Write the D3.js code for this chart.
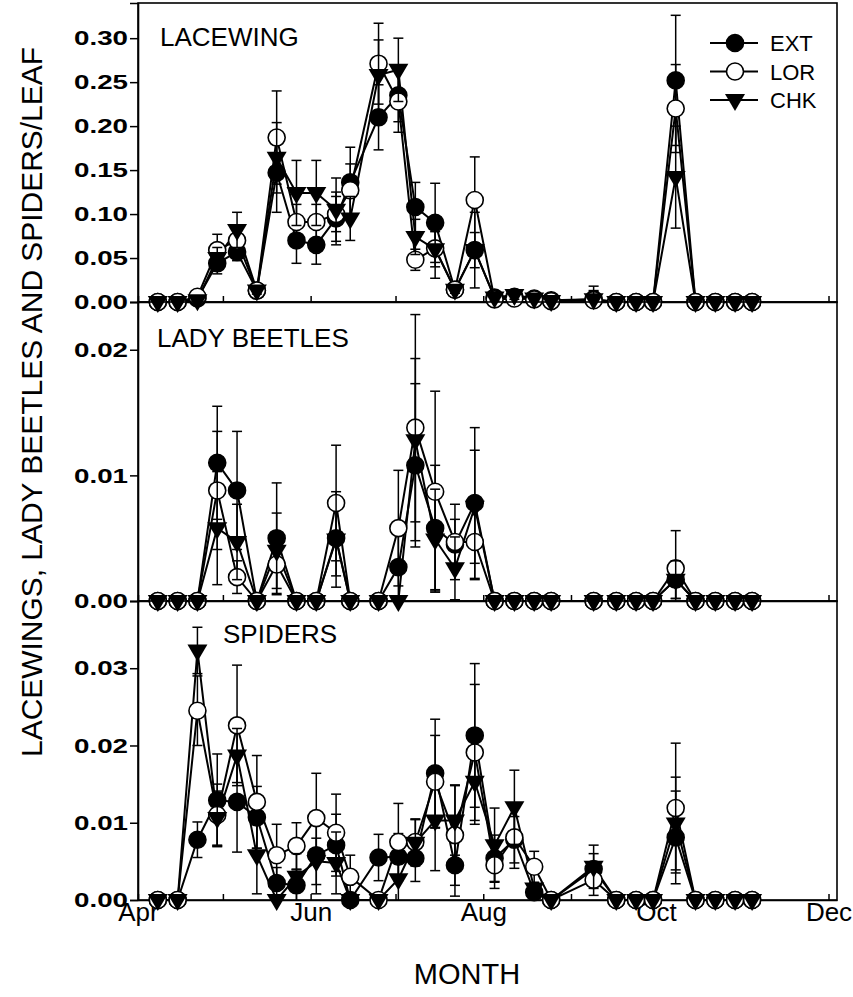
<!DOCTYPE html>
<html>
<head>
<meta charset="utf-8">
<script src="https://cdn.jsdelivr.net/npm/d3@7"></script>
<style>
  body { margin: 0; background: #fff; }
  svg { display: block; font-family: "Liberation Sans", Arial, sans-serif; }
</style>
</head>
<body>
<svg id="chart" width="853" height="997"></svg>
<script>
// Sampling dates (same for the three panels)
const sampleDates = [
  '1998-04-08', '1998-04-15', '1998-04-22', '1998-04-29', '1998-05-06',
  '1998-05-13', '1998-05-20', '1998-05-27', '1998-06-03', '1998-06-10',
  '1998-06-15', '1998-06-25', '1998-07-02', '1998-07-08', '1998-07-15',
  '1998-07-22', '1998-07-29', '1998-08-05', '1998-08-12', '1998-08-19',
  '1998-08-25', '1998-09-09', '1998-09-17', '1998-09-24', '1998-09-30',
  '1998-10-08', '1998-10-15', '1998-10-22', '1998-10-29', '1998-11-04'
];

const seriesNames = ['EXT', 'LOR', 'CHK'];
const monthLabels = ['Apr', 'Jun', 'Aug', 'Oct', 'Dec'];

// Lacewings per leaf
const lacewingExt = [0, 0, 0.004, 0.044, 0.057, 0.013, 0.147, 0.070, 0.065, 0.095, 0.136, 0.210, 0.235, 0.108, 0.090, 0.014, 0.059, 0.005, 0.006, 0.004, 0.002, 0.003, 0, 0, 0, 0.252, 0, 0, 0, 0];
const lacewingLor = [0, 0, 0.006, 0.059, 0.070, 0.013, 0.187, 0.091, 0.091, 0.100, 0.127, 0.271, 0.228, 0.048, 0.061, 0.014, 0.116, 0.003, 0.004, 0.003, 0.001, 0.002, 0, 0, 0, 0.220, 0, 0, 0, 0];
const lacewingChk = [0, 0, 0.002, 0.050, 0.082, 0.013, 0.164, 0.124, 0.124, 0.105, 0.095, 0.258, 0.264, 0.074, 0.060, 0.014, 0.059, 0.005, 0.008, 0.004, 0.001, 0.003, 0, 0, 0, 0.142, 0, 0, 0, 0];
const lacewingExtSe = [0, 0, 0.003, 0.012, 0.010, 0.004, 0.045, 0.026, 0.022, 0.030, 0.040, 0.037, 0.030, 0.028, 0.045, 0.004, 0.043, 0.004, 0.004, 0.003, 0.002, 0.015, 0, 0, 0, 0.074, 0, 0, 0, 0];
const lacewingLorSe = [0, 0, 0.004, 0.018, 0.012, 0.004, 0.053, 0.020, 0.020, 0.020, 0.030, 0.046, 0.035, 0.012, 0.034, 0.004, 0.049, 0.003, 0.003, 0.002, 0.001, 0.010, 0, 0, 0, 0.050, 0, 0, 0, 0];
const lacewingChkSe = [0, 0, 0.002, 0.012, 0.020, 0.004, 0.040, 0.037, 0.037, 0.036, 0.025, 0.040, 0.036, 0.020, 0.020, 0.004, 0.020, 0.004, 0.005, 0.003, 0.001, 0.010, 0, 0, 0, 0.058, 0, 0, 0, 0];

// Lady beetles per leaf
const beetleExt = [0, 0, 0, 0.0110, 0.0088, 0, 0.0050, 0, 0, 0.0050, 0, 0, 0.0027, 0.0108, 0.0058, 0.0045, 0.0078, 0, 0, 0, 0, 0, 0, 0, 0, 0.0017, 0, 0, 0, 0];
const beetleLor = [0, 0, 0, 0.0088, 0.0019, 0, 0.0029, 0, 0, 0.0078, 0, 0, 0.0058, 0.0138, 0.0087, 0.0047, 0.0047, 0, 0, 0, 0, 0, 0, 0, 0, 0.0026, 0, 0, 0, 0];
const beetleChk = [0, 0, 0, 0.0058, 0.0047, 0, 0.0040, 0, 0, 0.0049, 0, 0, 0, 0.0128, 0.0049, 0.0026, 0.0075, 0, 0, 0, 0, 0, 0, 0, 0, 0.0017, 0, 0, 0, 0];
const beetleExtSe = [0, 0, 0, 0.0045, 0.0047, 0, 0.0044, 0, 0, 0.0030, 0, 0, 0.0027, 0.0065, 0.0050, 0.0020, 0.0060, 0, 0, 0, 0, 0, 0, 0, 0, 0.0015, 0, 0, 0, 0];
const beetleLorSe = [0, 0, 0, 0.0047, 0.0013, 0, 0.0024, 0, 0, 0.0046, 0, 0, 0.0046, 0.0090, 0.0080, 0.0030, 0.0030, 0, 0, 0, 0, 0, 0, 0, 0, 0.0030, 0, 0, 0, 0];
const beetleChkSe = [0, 0, 0, 0.0045, 0.0030, 0, 0.0030, 0, 0, 0.0038, 0, 0, 0, 0.0065, 0.0040, 0.0025, 0.0045, 0, 0, 0, 0, 0, 0, 0, 0, 0.0015, 0, 0, 0, 0];

// Spiders per leaf
const spiderExt = [0, 0, 0.0078, 0.0129, 0.0127, 0.0107, 0.0022, 0.0019, 0.0058, 0.0071, 0, 0.0055, 0.0056, 0.0054, 0.0164, 0.0045, 0.0213, 0.0054, 0.0078, 0.0010, 0, 0.0040, 0, 0, 0, 0.0081, 0, 0, 0, 0];
const spiderLor = [0, 0, 0.0245, 0.0110, 0.0226, 0.0127, 0.0058, 0.0070, 0.0106, 0.0087, 0.0030, 0, 0.0075, 0.0075, 0.0153, 0.0084, 0.0191, 0.0045, 0.0081, 0.0043, 0, 0.0026, 0, 0, 0, 0.0119, 0, 0, 0, 0];
const spiderChk = [0, 0, 0.0323, 0.0106, 0.0187, 0.0058, 0, 0.0030, 0.0050, 0.0048, 0, 0, 0.0027, 0.0074, 0.0103, 0.0103, 0.0153, 0.0071, 0.0120, 0.0015, 0, 0.0043, 0, 0, 0, 0.0099, 0, 0, 0, 0];
const spiderExtSe = [0, 0, 0.0023, 0.0060, 0.0065, 0.0040, 0.0020, 0.0020, 0.0050, 0.0040, 0, 0.0030, 0.0030, 0.0030, 0.0070, 0.0040, 0.0093, 0.0030, 0.0030, 0, 0, 0.0020, 0, 0, 0, 0.0060, 0, 0, 0, 0];
const spiderLorSe = [0, 0, 0.0045, 0.0040, 0.0078, 0.0060, 0.0040, 0.0030, 0.0058, 0.0050, 0.0028, 0, 0.0050, 0.0030, 0.0060, 0.0065, 0.0088, 0.0030, 0.0040, 0.0020, 0, 0.0020, 0, 0, 0, 0.0084, 0, 0, 0, 0];
const spiderChkSe = [0, 0, 0.0030, 0.0035, 0.0035, 0.0050, 0, 0.0030, 0.0030, 0.0040, 0, 0, 0.0030, 0.0030, 0.0065, 0.0045, 0.0055, 0.0048, 0.0048, 0, 0, 0.0028, 0, 0, 0, 0.0060, 0, 0, 0, 0];

/*------------------------------------------------------*/

const parseDate = d3.timeParse('%Y-%m-%d');
const dates = sampleDates.map(parseDate);

const svg = d3.select('#chart');

const left = 138;
const right = 837;

const x = d3.scaleTime()
  .domain([new Date(1998, 3, 1), new Date(1998, 11, 4)])
  .range([left, right]);

// The three stacked panels, top to bottom
const panels = [
  { label: 'LACEWING', top: 3, bottom: 302, max: 0.34, ticks: d3.range(0, 0.301, 0.05),
    labelX: 160, labelY: 46,
    series: [[lacewingExt, lacewingExtSe], [lacewingLor, lacewingLorSe], [lacewingChk, lacewingChkSe]] },
  { label: 'LADY BEETLES', top: 302, bottom: 601, max: 0.0238, ticks: [0, 0.01, 0.02],
    labelX: 157, labelY: 347,
    series: [[beetleExt, beetleExtSe], [beetleLor, beetleLorSe], [beetleChk, beetleChkSe]] },
  { label: 'SPIDERS', top: 601, bottom: 900, max: 0.0387, ticks: [0, 0.01, 0.02, 0.03],
    labelX: 223, labelY: 643,
    series: [[spiderExt, spiderExtSe], [spiderLor, spiderLorSe], [spiderChk, spiderChkSe]] }
];

// Marker drawing for each treatment
const triangle = 'M-10,-6L10,-6L0,11Z';
function drawMarker(sel, name) {
  if (name === 'CHK') {
    sel.append('path').attr('d', triangle).attr('fill', '#000');
  } else {
    sel.append('circle')
      .attr('r', 8.5)
      .attr('fill', name === 'EXT' ? '#000' : '#fff')
      .attr('stroke', '#000')
      .attr('stroke-width', 1.6);
  }
}

panels.forEach((p, pi) => {
  const y = d3.scaleLinear().domain([0, p.max]).range([p.bottom, p.top]);
  const g = svg.append('g');

  // Frame
  g.append('rect')
    .attr('x', left).attr('y', p.top)
    .attr('width', right - left).attr('height', p.bottom - p.top)
    .attr('fill', 'none').attr('stroke', '#000').attr('stroke-width', 1.6);

  // Left axis
  const yAxis = g.append('g')
    .attr('transform', 'translate(' + left + ',0)')
    .call(d3.axisLeft(y).tickValues(p.ticks).tickSize(8).tickPadding(2)
      .tickFormat(d3.format('.2f')));
  yAxis.select('.domain').attr('stroke-width', 1.6);
  yAxis.selectAll('.tick line').attr('stroke-width', 1.5);
  yAxis.selectAll('.tick text')
    .attr('font-size', 21).attr('font-weight', 'bold')
    .attr('font-family', '"Liberation Sans", Arial, sans-serif')
    .attr('textLength', 54).attr('lengthAdjust', 'spacingAndGlyphs');

  // Bottom axis with inward month ticks
  const xAxis = g.append('g')
    .attr('transform', 'translate(0,' + p.bottom + ')')
    .call(d3.axisBottom(x).ticks(d3.timeMonth.every(1)).tickSizeInner(-6)
      .tickSizeOuter(0).tickPadding(3)
      .tickFormat((d) => {
        const m = d3.timeFormat('%b')(d);
        return (pi === 2 && monthLabels.includes(m)) ? m : '';
      }));
  xAxis.select('.domain').attr('stroke-width', 1.6);
  xAxis.selectAll('.tick line').attr('stroke-width', 1.5);
  xAxis.selectAll('.tick text')
    .attr('font-size', 26)
    .attr('font-family', '"Liberation Sans", Arial, sans-serif');

  // Panel title
  g.append('text')
    .attr('x', p.labelX).attr('y', p.labelY)
    .attr('font-size', 26)
    .text(p.label);

  const line = d3.line()
    .x((d, i) => x(dates[i]))
    .y((d) => y(d));

  // Connecting lines first, so symbols sit on top
  p.series.forEach(([vals]) => {
    g.append('path')
      .datum(vals)
      .attr('d', line)
      .attr('fill', 'none')
      .attr('stroke', '#000')
      .attr('stroke-width', 2);
  });

  p.series.forEach(([vals, errs], si) => {
    const pts = vals.map((v, i) => ({ date: dates[i], v: v, e: errs[i] }));

    // Error bars
    const eb = g.append('g').attr('stroke', '#000').attr('stroke-width', 1.5);
    pts.filter((d) => d.e > 0).forEach((d) => {
      const cx = x(d.date);
      const hi = y(d.v + d.e);
      const lo = y(Math.max(0, d.v - d.e));
      eb.append('line').attr('x1', cx).attr('x2', cx).attr('y1', hi).attr('y2', lo);
      eb.append('line').attr('x1', cx - 5).attr('x2', cx + 5).attr('y1', hi).attr('y2', hi);
      if (d.v - d.e > 0) {
        eb.append('line').attr('x1', cx - 5).attr('x2', cx + 5).attr('y1', lo).attr('y2', lo);
      }
    });

    // Symbols
    g.selectAll('.m' + si)
      .data(pts)
      .enter().append('g')
      .attr('class', 'm' + si)
      .attr('transform', (d) => 'translate(' + x(d.date) + ',' + y(d.v) + ')')
      .each(function () { drawMarker(d3.select(this), seriesNames[si]); });
  });
});

// Legend
const legend = svg.append('g').attr('transform', 'translate(710,0)');
seriesNames.forEach((name, i) => {
  const ly = 43 + i * 28.5;
  legend.append('line')
    .attr('x1', 0).attr('x2', 48).attr('y1', ly).attr('y2', ly)
    .attr('stroke', '#000').attr('stroke-width', 2);
  drawMarker(legend.append('g').attr('transform', 'translate(25,' + ly + ')'), name);
  legend.append('text')
    .attr('x', 60).attr('y', ly + 8)
    .attr('font-size', 22)
    .text(name);
});

// Axis titles
svg.append('text')
  .attr('transform', 'translate(42,402) rotate(-90)')
  .attr('text-anchor', 'middle')
  .attr('font-size', 30)
  .attr('textLength', 710).attr('lengthAdjust', 'spacingAndGlyphs')
  .text('LACEWINGS, LADY BEETLES AND SPIDERS/LEAF');

svg.append('text')
  .attr('x', 467).attr('y', 984)
  .attr('text-anchor', 'middle')
  .attr('font-size', 29)
  .text('MONTH');
</script>
</body>
</html>
